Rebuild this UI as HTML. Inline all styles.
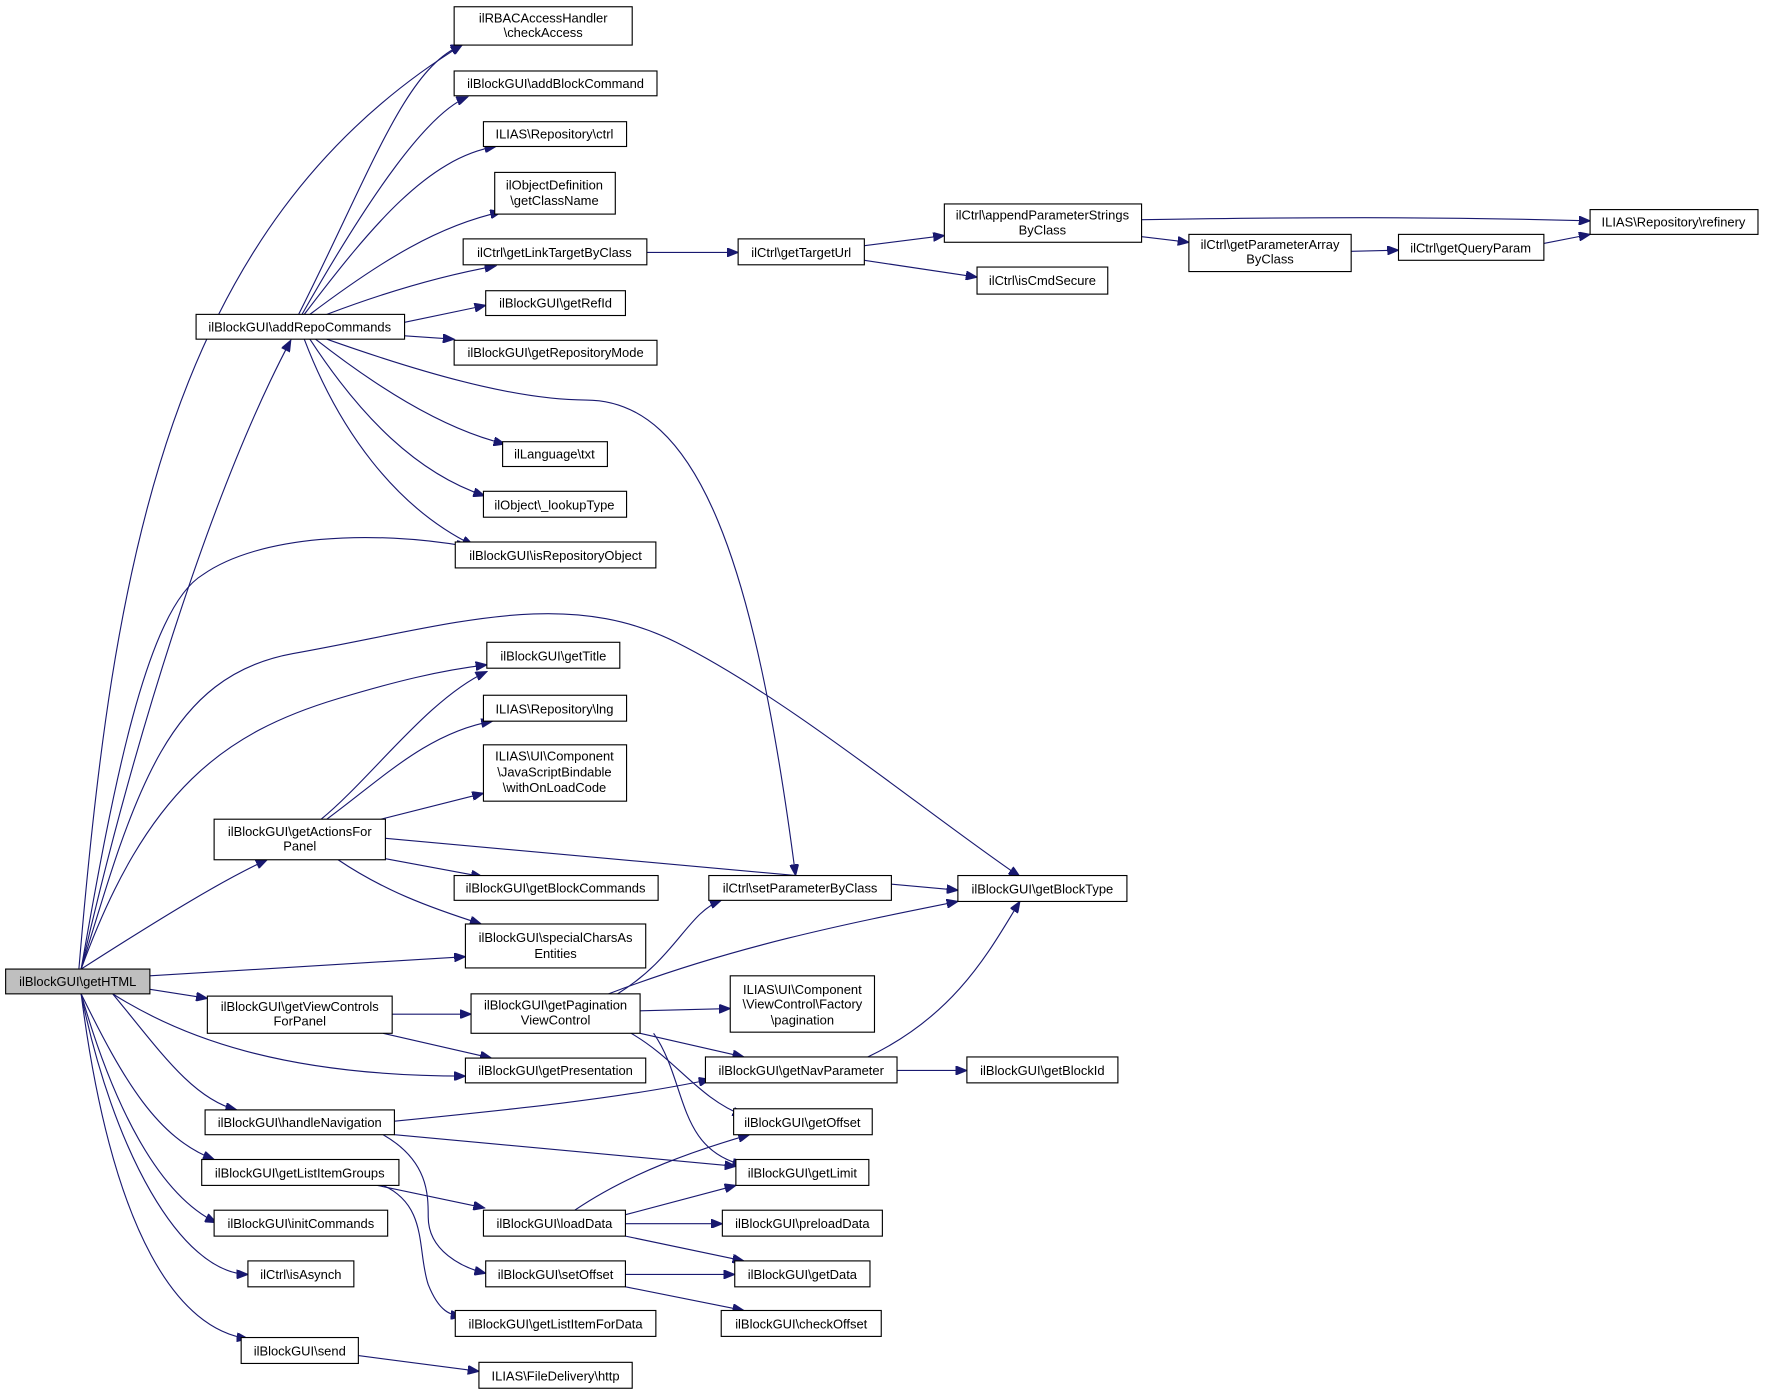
<!DOCTYPE html>
<html><head><meta charset="utf-8"><style>
html,body{margin:0;padding:0;background:#fff;}
svg{display:block;}
text{font-family:"Liberation Sans",Arial,sans-serif;font-size:11.5px;fill:#000;text-anchor:middle;}
rect{fill:#fff;stroke:#000;stroke-width:1;}
path{fill:none;stroke:#191970;stroke-width:1;}
</style></head><body>
<svg width="1767" height="1395" viewBox="0 0 1568 1238" preserveAspectRatio="none" xmlns="http://www.w3.org/2000/svg">
<defs><marker id="a" markerUnits="userSpaceOnUse" markerWidth="11" markerHeight="8" refX="10" refY="4" orient="auto"><path d="M0,0 L10,4 L0,8 Z" style="fill:#191970;stroke:#191970"/></marker></defs>
<g marker-end="url(#a)">
<path d="M70,860 C100,500 150,200 410,40"/>
<path d="M72,860 C120,650 190,430 258,302"/>
<path d="M72,860 C100,700 130,540 180,510 C230,475 330,470 415,485"/>
<path d="M72,860 C120,700 150,600 260,580 C400,555 500,520 600,570 C700,620 820,720 905,778"/>
<path d="M72,860 C130,700 200,650 300,620 C350,605 390,595 432,590"/>
<path d="M72,860 C150,810 200,780 237,763"/>
<path d="M133,866 L413,849"/>
<path d="M133,878 L184,886"/>
<path d="M100,882 C160,920 250,955 413,955"/>
<path d="M100,882 C140,930 170,975 210,985"/>
<path d="M72,882 C110,960 140,1010 190,1029"/>
<path d="M72,882 C100,980 140,1060 192,1085"/>
<path d="M72,882 C100,1020 160,1130 220,1131"/>
<path d="M72,882 C100,1100 160,1180 220,1188"/>
<path d="M265,279 C330,150 360,60 410,40"/>
<path d="M268,279 C330,170 380,100 415,86"/>
<path d="M270,279 C330,200 380,140 440,130"/>
<path d="M275,279 C340,230 390,200 445,188"/>
<path d="M290,279 C340,260 390,245 440,236"/>
<path d="M359,286 L431,271"/>
<path d="M359,298 L403,301"/>
<path d="M290,301 C400,340 470,355 520,355 C620,355 670,500 706,777"/>
<path d="M280,301 C330,340 390,380 448,394"/>
<path d="M275,301 C320,370 370,420 430,440"/>
<path d="M270,301 C300,380 350,450 420,484"/>
<path d="M285,727 C330,690 380,620 432,596"/>
<path d="M290,727 C340,690 380,650 437,640"/>
<path d="M338,727 L429,704"/>
<path d="M342,744 L850,790"/>
<path d="M342,762 L428,778"/>
<path d="M300,763 C340,790 380,805 427,820"/>
<path d="M348,900 L418,900"/>
<path d="M340,917 L436,939"/>
<path d="M548,882 C600,850 610,810 640,799"/>
<path d="M540,882 C650,840 750,820 850,800"/>
<path d="M568,897 L648,895"/>
<path d="M568,917 L660,938"/>
<path d="M560,917 C600,940 620,975 660,990"/>
<path d="M580,917 C610,960 600,1020 660,1034"/>
<path d="M796,950 L858,950"/>
<path d="M770,938 C850,900 880,840 905,800"/>
<path d="M350,995 C450,985 550,975 630,958"/>
<path d="M350,1007 L653,1035"/>
<path d="M340,1007 C380,1030 380,1060 380,1080 C380,1110 410,1125 431,1130"/>
<path d="M335,1052 L430,1072"/>
<path d="M340,1052 C380,1070 370,1110 380,1140 C390,1165 400,1167 410,1168"/>
<path d="M510,1074 C560,1040 620,1020 665,1007"/>
<path d="M555,1078 L653,1052"/>
<path d="M555,1086 L641,1086"/>
<path d="M555,1097 L660,1119"/>
<path d="M555,1131 L652,1131"/>
<path d="M555,1142 L660,1163"/>
<path d="M318,1203 L425,1217"/>
<path d="M574,224 L655,224"/>
<path d="M767,218 L838,209"/>
<path d="M767,231 L867,246"/>
<path d="M1013,195 C1200,192 1300,193 1411,196"/>
<path d="M1013,210 L1055,215"/>
<path d="M1199,223 L1241,222"/>
<path d="M1370,216 L1411,208"/>
</g>
<g>
<rect x="5" y="860" width="128" height="22" style="fill:#bfbfbf"/><text x="69" y="875">ilBlockGUI\getHTML</text>
<rect x="403" y="6" width="158" height="34"/><text x="482" y="20">ilRBACAccessHandler</text><text x="482" y="33">\checkAccess</text>
<rect x="403" y="63" width="180" height="22"/><text x="493" y="78">ilBlockGUI\addBlockCommand</text>
<rect x="429" y="108" width="127" height="22"/><text x="492" y="123">ILIAS\Repository\ctrl</text>
<rect x="439" y="153" width="107" height="37"/><text x="492" y="168">ilObjectDefinition</text><text x="492" y="182">\getClassName</text>
<rect x="411" y="212" width="163" height="23"/><text x="492" y="228">ilCtrl\getLinkTargetByClass</text>
<rect x="431" y="258" width="124" height="22"/><text x="493" y="273">ilBlockGUI\getRefId</text>
<rect x="403" y="302" width="180" height="22"/><text x="493" y="317">ilBlockGUI\getRepositoryMode</text>
<rect x="446" y="392" width="93" height="22"/><text x="492" y="407">ilLanguage\txt</text>
<rect x="429" y="436" width="127" height="23"/><text x="492" y="452">ilObject\_lookupType</text>
<rect x="404" y="481" width="178" height="23"/><text x="493" y="497">ilBlockGUI\isRepositoryObject</text>
<rect x="174" y="279" width="185" height="22"/><text x="266" y="294">ilBlockGUI\addRepoCommands</text>
<rect x="432" y="570" width="118" height="23"/><text x="491" y="586">ilBlockGUI\getTitle</text>
<rect x="429" y="617" width="127" height="23"/><text x="492" y="633">ILIAS\Repository\lng</text>
<rect x="429" y="661" width="127" height="50"/><text x="492" y="675">ILIAS\UI\Component</text><text x="492" y="689">\JavaScriptBindable</text><text x="492" y="703">\withOnLoadCode</text>
<rect x="190" y="727" width="152" height="36"/><text x="266" y="742">ilBlockGUI\getActionsFor</text><text x="266" y="755">Panel</text>
<rect x="403" y="777" width="181" height="22"/><text x="493" y="792">ilBlockGUI\getBlockCommands</text>
<rect x="413" y="820" width="160" height="39"/><text x="493" y="836">ilBlockGUI\specialCharsAs</text><text x="493" y="850">Entities</text>
<rect x="184" y="884" width="164" height="33"/><text x="266" y="897">ilBlockGUI\getViewControls</text><text x="266" y="910">ForPanel</text>
<rect x="418" y="882" width="150" height="35"/><text x="493" y="896">ilBlockGUI\getPagination</text><text x="493" y="909">ViewControl</text>
<rect x="413" y="939" width="160" height="22"/><text x="493" y="954">ilBlockGUI\getPresentation</text>
<rect x="182" y="985" width="168" height="22"/><text x="266" y="1000">ilBlockGUI\handleNavigation</text>
<rect x="179" y="1029" width="175" height="23"/><text x="266" y="1045">ilBlockGUI\getListItemGroups</text>
<rect x="190" y="1074" width="154" height="23"/><text x="267" y="1090">ilBlockGUI\initCommands</text>
<rect x="220" y="1119" width="94" height="23"/><text x="267" y="1135">ilCtrl\isAsynch</text>
<rect x="214" y="1187" width="104" height="23"/><text x="266" y="1203">ilBlockGUI\send</text>
<rect x="629" y="777" width="162" height="22"/><text x="710" y="792">ilCtrl\setParameterByClass</text>
<rect x="648" y="866" width="128" height="50"/><text x="712" y="882">ILIAS\UI\Component</text><text x="712" y="895">\ViewControl\Factory</text><text x="712" y="909">\pagination</text>
<rect x="626" y="938" width="170" height="23"/><text x="711" y="954">ilBlockGUI\getNavParameter</text>
<rect x="858" y="938" width="134" height="23"/><text x="925" y="954">ilBlockGUI\getBlockId</text>
<rect x="651" y="984" width="123" height="23"/><text x="712" y="1000">ilBlockGUI\getOffset</text>
<rect x="653" y="1029" width="118" height="23"/><text x="712" y="1045">ilBlockGUI\getLimit</text>
<rect x="429" y="1074" width="126" height="23"/><text x="492" y="1090">ilBlockGUI\loadData</text>
<rect x="641" y="1074" width="142" height="23"/><text x="712" y="1090">ilBlockGUI\preloadData</text>
<rect x="431" y="1119" width="124" height="23"/><text x="493" y="1135">ilBlockGUI\setOffset</text>
<rect x="652" y="1119" width="120" height="23"/><text x="712" y="1135">ilBlockGUI\getData</text>
<rect x="404" y="1163" width="178" height="23"/><text x="493" y="1179">ilBlockGUI\getListItemForData</text>
<rect x="640" y="1163" width="142" height="23"/><text x="711" y="1179">ilBlockGUI\checkOffset</text>
<rect x="425" y="1209" width="136" height="23"/><text x="493" y="1225">ILIAS\FileDelivery\http</text>
<rect x="850" y="777" width="150" height="23"/><text x="925" y="793">ilBlockGUI\getBlockType</text>
<rect x="655" y="212" width="112" height="23"/><text x="711" y="228">ilCtrl\getTargetUrl</text>
<rect x="838" y="181" width="175" height="34"/><text x="925" y="195">ilCtrl\appendParameterStrings</text><text x="925" y="208">ByClass</text>
<rect x="867" y="237" width="116" height="24"/><text x="925" y="253">ilCtrl\isCmdSecure</text>
<rect x="1055" y="208" width="144" height="33"/><text x="1127" y="221">ilCtrl\getParameterArray</text><text x="1127" y="234">ByClass</text>
<rect x="1241" y="208" width="129" height="23"/><text x="1305" y="224">ilCtrl\getQueryParam</text>
<rect x="1411" y="186" width="149" height="22"/><text x="1485" y="201">ILIAS\Repository\refinery</text>
</g>
</svg>
</body></html>
